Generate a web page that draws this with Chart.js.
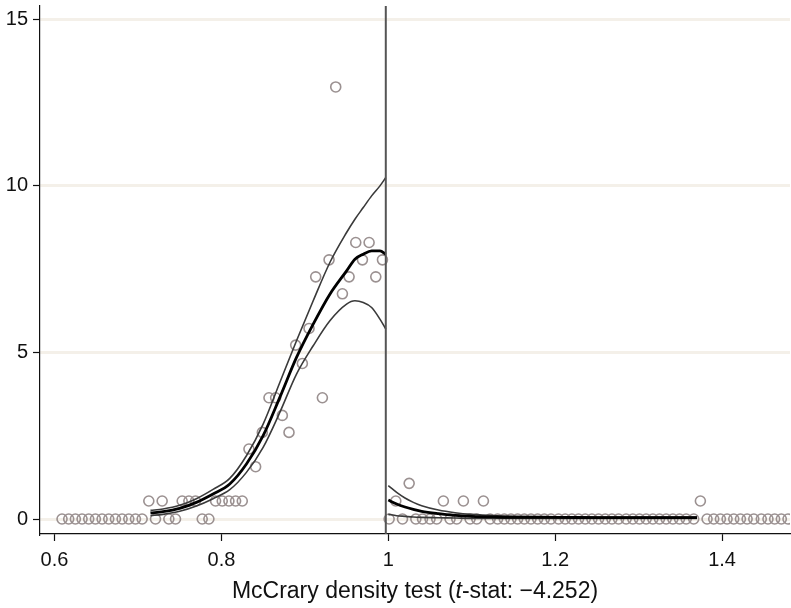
<!DOCTYPE html>
<html>
<head>
<meta charset="utf-8">
<script src="https://cdn.jsdelivr.net/npm/chart.js@4.4.1/dist/chart.umd.min.js"></script>
<style>
  html, body { margin: 0; padding: 0; background: #fff; }
  #wrap { width: 791px; height: 608px; }
</style>
</head>
<body>
<div id="wrap"><canvas id="mccrary" width="791" height="608"></canvas></div>
<script>
// bin centres and bin heights (left of cutoff)
const leftBinX = [0.609, 0.617, 0.625, 0.633, 0.641, 0.649, 0.657, 0.665, 0.673, 0.681, 0.689, 0.697, 0.705,
  0.713, 0.721, 0.729, 0.737, 0.745, 0.753, 0.761, 0.769, 0.777, 0.785, 0.793, 0.801, 0.809, 0.817, 0.825,
  0.833, 0.841, 0.849, 0.857, 0.865, 0.873, 0.881, 0.889, 0.897, 0.905, 0.913, 0.921, 0.929, 0.937, 0.945,
  0.953, 0.961, 0.969, 0.977, 0.985, 0.993];
const leftBinY = [0, 0, 0, 0, 0, 0, 0, 0, 0, 0, 0, 0, 0,
  0.54, 0, 0.54, 0, 0, 0.54, 0.54, 0.54, 0, 0, 0.54, 0.54, 0.54, 0.54, 0.54,
  2.1, 1.57, 2.6, 3.64, 3.64, 3.11, 2.6, 5.22, 4.67, 5.72, 7.27, 3.64, 7.78, 12.97, 6.76,
  7.27, 8.3, 7.78, 8.3, 7.27, 7.78];

// bin centres and bin heights (right of cutoff)
const rightBinX = [1.001, 1.009, 1.017, 1.025, 1.033, 1.041, 1.050, 1.058, 1.066, 1.074, 1.082, 1.090, 1.098,
  1.106, 1.114, 1.122, 1.131, 1.139, 1.147, 1.155, 1.163, 1.171, 1.179, 1.187, 1.195, 1.204, 1.212, 1.220,
  1.228, 1.236, 1.244, 1.252, 1.260, 1.268, 1.276, 1.285, 1.293, 1.301, 1.309, 1.317, 1.325, 1.333, 1.341,
  1.349, 1.357, 1.366, 1.374, 1.382, 1.390, 1.398, 1.406, 1.414, 1.422, 1.430, 1.438, 1.447, 1.455, 1.463,
  1.471, 1.479];
const rightBinY = [0, 0.54, 0, 1.07, 0, 0, 0, 0, 0.54, 0, 0, 0.54, 0,
  0, 0.54, 0, 0, 0, 0, 0, 0, 0, 0, 0, 0, 0, 0, 0,
  0, 0, 0, 0, 0, 0, 0, 0, 0, 0, 0, 0, 0, 0, 0,
  0, 0, 0, 0.54, 0, 0, 0, 0, 0, 0, 0, 0, 0, 0, 0,
  0, 0];

// fitted density with confidence band, left side
const fitLeftX = [0.715, 0.73, 0.75, 0.77, 0.79, 0.81, 0.83, 0.85, 0.87, 0.89, 0.91, 0.93, 0.95, 0.96, 0.97, 0.98, 0.99, 0.997];
const fitLeftMid = [0.18, 0.22, 0.32, 0.50, 0.75, 1.05, 1.65, 2.5, 3.65, 4.85, 5.85, 6.75, 7.45, 7.8, 7.95, 8.05, 8.05, 7.95];
const fitLeftHi = [0.26, 0.30, 0.41, 0.61, 0.89, 1.22, 1.9, 2.85, 4.1, 5.35, 6.55, 7.7, 8.6, 9.0, 9.35, 9.7, 10.0, 10.25];
const fitLeftLo = [0.10, 0.14, 0.23, 0.39, 0.61, 0.88, 1.4, 2.15, 3.2, 4.35, 5.2, 5.95, 6.45, 6.55, 6.5, 6.35, 6.0, 5.7];

// fitted density with confidence band, right side
const fitRightX = [1.0, 1.01, 1.02, 1.03, 1.04, 1.06, 1.08, 1.10, 1.13, 1.16, 1.2, 1.25, 1.3, 1.37];
const fitRightMid = [0.57, 0.45, 0.36, 0.29, 0.23, 0.16, 0.11, 0.08, 0.06, 0.05, 0.05, 0.04, 0.04, 0.04];
const fitRightHi = [1.0, 0.8, 0.63, 0.5, 0.4, 0.27, 0.19, 0.14, 0.1, 0.08, 0.07, 0.06, 0.06, 0.06];
const fitRightLo = [0.14, 0.1, 0.08, 0.06, 0.05, 0.04, 0.03, 0.02, 0.02, 0.02, 0.02, 0.02, 0.02, 0.02];

const cutoff = 0.997;
const xTicks = [0.6, 0.8, 1, 1.2, 1.4];
const xTickLabels = ['0.6', '0.8', '1', '1.2', '1.4'];
const yTicks = [0, 5, 10, 15];

const FONT = '"Liberation Sans", Arial, Helvetica, sans-serif';

function pts(xs, ys) {
  return xs.map((x, i) => ({ x, y: ys[i] }));
}

function lineSet(xs, ys, color, width) {
  return {
    data: pts(xs, ys),
    showLine: true,
    borderColor: color,
    borderWidth: width,
    pointRadius: 0,
    cubicInterpolationMode: 'monotone',
    fill: false,
    order: 1
  };
}

const bandColor = '#3a3a3a';
const midColor = '#000';

const cutoffLine = {
  id: 'cutoffLine',
  afterDatasetsDraw(chart) {
    const { ctx, chartArea, scales } = chart;
    const px = scales.x.getPixelForValue(cutoff);
    ctx.save();
    ctx.strokeStyle = '#555';
    ctx.lineWidth = 2;
    ctx.beginPath();
    ctx.moveTo(px, chartArea.top);
    ctx.lineTo(px, chartArea.bottom);
    ctx.stroke();
    ctx.restore();
  }
};

const axisTitle = {
  id: 'axisTitle',
  afterDraw(chart) {
    const { ctx, chartArea } = chart;
    const parts = [
      { t: 'McCrary density test (', f: '23px ' + FONT },
      { t: 't', f: 'italic 23px ' + FONT },
      { t: '-stat: \u22124.252)', f: '23px ' + FONT }
    ];
    ctx.save();
    let total = 0;
    parts.forEach(p => { ctx.font = p.f; p.w = ctx.measureText(p.t).width; total += p.w; });
    let x = (chartArea.left + chartArea.right) / 2 - total / 2;
    ctx.fillStyle = '#111';
    ctx.textBaseline = 'alphabetic';
    parts.forEach(p => { ctx.font = p.f; ctx.fillText(p.t, x, 598); x += p.w; });
    ctx.restore();
  }
};

new Chart(document.getElementById('mccrary').getContext('2d'), {
  type: 'scatter',
  data: {
    datasets: [
      lineSet(fitLeftX, fitLeftMid, midColor, 2.8),
      lineSet(fitLeftX, fitLeftHi, bandColor, 1.6),
      lineSet(fitLeftX, fitLeftLo, bandColor, 1.6),
      lineSet(fitRightX, fitRightMid, midColor, 2.8),
      lineSet(fitRightX, fitRightHi, bandColor, 1.6),
      lineSet(fitRightX, fitRightLo, bandColor, 1.6),
      {
        data: pts(leftBinX.concat(rightBinX), leftBinY.concat(rightBinY)),
        pointStyle: 'circle',
        pointRadius: 5,
        pointBorderWidth: 1.6,
        pointBorderColor: 'rgb(155,145,145)',
        pointBackgroundColor: 'rgba(0,0,0,0)',
        order: 2
      }
    ]
  },
  options: {
    responsive: false,
    animation: false,
    devicePixelRatio: 1,
    layout: { autoPadding: false, padding: { top: 6, right: 1, left: 0, bottom: 0 } },
    plugins: { legend: { display: false }, tooltip: { enabled: false } },
    scales: {
      x: {
        type: 'linear',
        min: 0.5826,
        max: 1.4814,
        afterBuildTicks: s => { s.ticks = xTicks.map(v => ({ value: v })); },
        afterFit: s => { s.height = 74; s.paddingLeft = 0; s.paddingRight = 0; },
        ticks: {
          callback: (v) => xTickLabels[xTicks.indexOf(v)],
          font: { family: FONT, size: 20 },
          color: '#111',
          padding: 7,
          maxRotation: 0
        },
        grid: { drawOnChartArea: false, drawTicks: true, tickLength: 7, tickColor: '#111', tickWidth: 1.2 },
        border: { display: true, color: '#111', width: 1.2 }
      },
      y: {
        type: 'linear',
        min: -0.45,
        max: 15.4,
        afterBuildTicks: s => { s.ticks = yTicks.map(v => ({ value: v })); },
        afterFit: s => { s.width = 40; s.paddingTop = 0; s.paddingBottom = 0; },
        ticks: {
          font: { family: FONT, size: 20 },
          color: '#111',
          padding: 5
        },
        grid: {
          drawOnChartArea: true,
          color: 'rgba(240,234,224,0.7)',
          lineWidth: 3,
          tickLength: 7,
          tickColor: '#111',
          tickWidth: 1.2
        },
        border: { display: true, color: '#111', width: 1.2 }
      }
    }
  },
  plugins: [cutoffLine, axisTitle]
});
</script>
</body>
</html>
